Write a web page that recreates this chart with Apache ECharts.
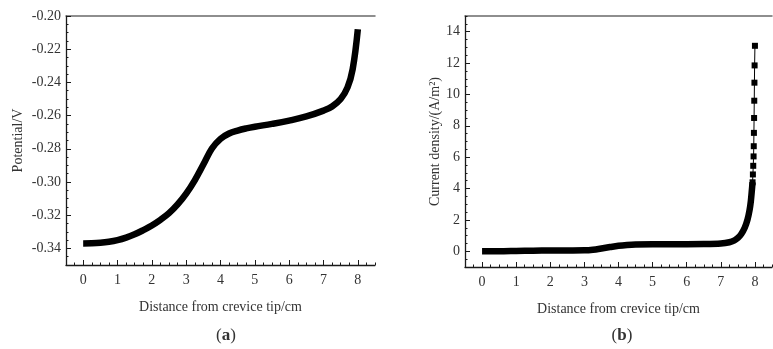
<!DOCTYPE html>
<html>
<head>
<meta charset="utf-8">
<script src="https://cdn.jsdelivr.net/npm/echarts@6/dist/echarts.min.js"></script>
<style>
  html, body { margin: 0; padding: 0; background: #fff; }
  #chart { width: 773px; height: 349px; }
</style>
</head>
<body>
<div id="chart"></div>
<script>
// (a) potential along the crevice
const potDistance = [0, 0.25, 0.5, 0.75, 1.0, 1.25, 1.5, 1.75, 2.0, 2.25, 2.5, 2.75, 3.0, 3.25, 3.5, 3.75, 4.0, 4.25, 4.5, 4.75, 5.0, 5.5, 6.0, 6.5, 7.0, 7.25, 7.5, 7.7, 7.85, 8.0];
const potential   = [-0.3370, -0.3369, -0.3366, -0.3360, -0.3350, -0.3335, -0.3315, -0.3290, -0.3262, -0.3228, -0.3188, -0.3135, -0.3070, -0.2990, -0.2895, -0.2798, -0.2740, -0.2708, -0.2690, -0.2677, -0.2667, -0.2650, -0.2630, -0.2605, -0.2570, -0.2545, -0.2500, -0.2430, -0.2320, -0.2080];

// (b) current density along the crevice
const curDistance = [0, 0.5, 1.0, 1.5, 2.0, 2.5, 3.0, 3.25, 3.5, 3.75, 4.0, 4.25, 4.5, 5.0, 5.5, 6.0, 6.5, 7.0, 7.25, 7.4, 7.5, 7.6, 7.7, 7.78, 7.84, 7.88, 7.91, 7.93, 7.94, 7.95, 7.96, 7.965, 7.97, 7.975, 7.98, 7.985, 7.99, 8.0];
const curDensity  = [0.0, 0.0, 0.02, 0.04, 0.05, 0.05, 0.06, 0.10, 0.18, 0.27, 0.35, 0.40, 0.43, 0.45, 0.45, 0.45, 0.46, 0.50, 0.58, 0.70, 0.85, 1.10, 1.50, 2.00, 2.60, 3.20, 3.90, 4.40, 4.90, 5.45, 6.05, 6.70, 7.55, 8.50, 9.60, 10.75, 11.85, 13.10];

// tick labels
const xTicks = [0, 1, 2, 3, 4, 5, 6, 7, 8];
const potTicks = [-0.34, -0.32, -0.30, -0.28, -0.26, -0.24, -0.22, -0.20];
const curTicks = [0, 2, 4, 6, 8, 10, 12, 14];

const FONT = '"Liberation Serif", "DejaVu Serif", serif';
const INK = '#1a1a1a';
const TXT = '#333';

const potPairs = potDistance.map((d, i) => [d, potential[i]]);
const curPairs = curDistance.map((d, i) => [d, curDensity[i]]);
const denseSplit = 4.4;
const curDense = curPairs.filter(p => p[1] <= denseSplit);
const curSparse = curPairs.filter(p => p[1] >= denseSplit);

function mainX(grid, name) {
  return {
    type: 'value', gridIndex: grid, min: -0.5, max: 8.5, position: 'bottom',
    name: name, nameLocation: 'middle', nameGap: 35,
    nameTextStyle: { fontFamily: FONT, fontSize: 14, color: TXT },
    axisLine: { show: true, onZero: false, lineStyle: { color: INK, width: 1.3 } },
    axisTick: { show: true, inside: true, length: 5, lineStyle: { color: INK }, customValues: xTicks },
    axisLabel: { fontFamily: FONT, fontSize: 14, color: TXT, margin: 8, customValues: xTicks },
    splitLine: { show: false }
  };
}
function minorX(grid) {
  return {
    type: 'value', gridIndex: grid, min: -0.5, max: 8.5, interval: 0.25, position: 'bottom',
    axisLine: { show: false, onZero: false },
    axisTick: { show: true, inside: true, length: 2.5, lineStyle: { color: INK } },
    axisLabel: { show: false }, splitLine: { show: false }
  };
}
function topX(grid) {
  return {
    type: 'value', gridIndex: grid, min: -0.5, max: 8.5, position: 'top',
    axisLine: { show: true, onZero: false, lineStyle: { color: '#6a6a6a', width: 1.5 } },
    axisTick: { show: false }, axisLabel: { show: false }, splitLine: { show: false }
  };
}
function mainY(grid, name, min, max, ticks, gap, fmt) {
  return {
    type: 'value', gridIndex: grid, min: min, max: max, position: 'left',
    name: name, nameLocation: 'middle', nameGap: gap,
    nameTextStyle: { fontFamily: FONT, fontSize: 14, color: TXT },
    axisLine: { show: true, onZero: false, lineStyle: { color: INK, width: 1.3 } },
    axisTick: { show: true, inside: true, length: 5, lineStyle: { color: INK }, customValues: ticks },
    axisLabel: { fontFamily: FONT, fontSize: 14, color: TXT, margin: 5, customValues: ticks, formatter: fmt },
    splitLine: { show: false }
  };
}
function minorY(grid, min, max, step) {
  return {
    type: 'value', gridIndex: grid, min: min, max: max, interval: step, position: 'left',
    axisLine: { show: false, onZero: false },
    axisTick: { show: true, inside: true, length: 2.5, lineStyle: { color: INK } },
    axisLabel: { show: false }, splitLine: { show: false }
  };
}

const chart = echarts.init(document.getElementById('chart'), null, { renderer: 'canvas' });
chart.setOption({
  animation: false,
  backgroundColor: '#fff',
  title: [
    { text: '({b|a})', left: 221, top: 322, textAlign: 'center',
      textStyle: { fontFamily: FONT, fontSize: 17, fontWeight: 'normal', color: TXT,
        rich: { b: { fontFamily: FONT, fontSize: 17, fontWeight: 'bold', color: TXT } } } },
    { text: '({b|b})', left: 617, top: 322, textAlign: 'center',
      textStyle: { fontFamily: FONT, fontSize: 17, fontWeight: 'normal', color: TXT,
        rich: { b: { fontFamily: FONT, fontSize: 17, fontWeight: 'bold', color: TXT } } } }
  ],
  grid: [
    { left: 66, top: 16, width: 309, height: 249 },
    { left: 465, top: 16, width: 307, height: 251 }
  ],
  xAxis: [
    mainX(0, 'Distance from crevice tip/cm'), minorX(0), topX(0),
    mainX(1, 'Distance from crevice tip/cm'), minorX(1), topX(1)
  ],
  yAxis: [
    mainY(0, 'Potential/V', -0.35, -0.20, potTicks, 41, v => v.toFixed(2)),
    minorY(0, -0.35, -0.20, 0.005),
    mainY(1, 'Current density/(A/m²)', -1, 15, curTicks, 22, v => String(v)),
    minorY(1, -1, 15, 0.5)
  ],
  series: [
    { type: 'line', xAxisIndex: 0, yAxisIndex: 0, data: potPairs,
      smooth: 0.4, showSymbol: false, symbol: 'none',
      lineStyle: { color: '#000', width: 6.5, cap: 'butt', join: 'round' } },
    { type: 'line', xAxisIndex: 3, yAxisIndex: 2, data: curDense,
      smooth: 0.3, showSymbol: false, symbol: 'none',
      lineStyle: { color: '#000', width: 6.5, cap: 'butt', join: 'round' } },
    { type: 'line', xAxisIndex: 3, yAxisIndex: 2, data: curSparse,
      symbol: 'rect', symbolSize: 6, showSymbol: true,
      itemStyle: { color: '#000' },
      lineStyle: { color: '#000', width: 1 } }
  ]
});
</script>
</body>
</html>
